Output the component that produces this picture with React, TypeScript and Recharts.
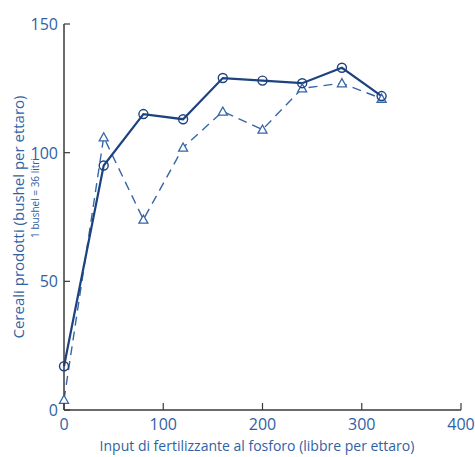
import { LineChart, Line, XAxis, YAxis } from "recharts";

// fertilizer input (libbre per ettaro)
const fosforo = [0, 40, 80, 120, 160, 200, 240, 280, 320];
// two series
const serieCerchi = [17, 95, 115, 113, 129, 128, 127, 133, 122];
const serieTriangoli = [4, 106, 74, 102, 116, 109, 125, 127, 121];

const xTicks = [0, 100, 200, 300, 400];
const yTicks = [0, 50, 100, 150];

const data = fosforo.map((x, i) => ({
    x,
    cerchi: serieCerchi[i],
    triangoli: serieTriangoli[i],
}));

const NAVY = "#1d4280";
const DASH = "#3766a6";
const TEXT = "#2f62a3";
const AXIS = "#3a3a3a";
const FONT = "'Open Sans', 'Noto Sans', sans-serif";

const Triangle = (props: any) => {
    const { cx, cy } = props;
    if (cx == null || cy == null) return null;
    const s = 4.5;
    return (
        <path
            d={`M${cx},${cy - s} L${cx + s},${cy + s * 0.8} L${cx - s},${cy + s * 0.8} Z`}
            fill="#fff"
            stroke={DASH}
            strokeWidth={1.3}
        />
    );
};

// ticks point inward, so draw line + label by hand
const XTick = (props: any) => {
    const { x, y, payload } = props;
    return (
        <g>
            <line x1={x} y1={y} x2={x} y2={y - 7} stroke={AXIS} strokeWidth={1.2} />
            <text x={x} y={y + 20} textAnchor="middle" fill={TEXT} fontSize={16} fontFamily={FONT}>
                {payload.value}
            </text>
        </g>
    );
};

const YTick = (props: any) => {
    const { x, y, payload } = props;
    return (
        <g>
            <line x1={x} y1={y} x2={x + 6} y2={y} stroke={AXIS} strokeWidth={1.2} />
            <text x={x - 6} y={y + 6} textAnchor="end" fill={TEXT} fontSize={16} fontFamily={FONT}>
                {payload.value}
            </text>
        </g>
    );
};

const AxisTitles = () => (
    <g>
        <text
            x={0}
            y={0}
            transform="translate(24, 217) rotate(-90)"
            textAnchor="middle"
            fill={TEXT}
            fontSize={15}
            fontFamily={FONT}
        >
            Cereali prodotti (bushel per ettaro)
        </text>
        <text
            x={0}
            y={0}
            transform="translate(39, 198) rotate(-90)"
            textAnchor="middle"
            fill={TEXT}
            fontSize={10}
            fontFamily={FONT}
        >
            1 bushel = 36 litri
        </text>
        <text x={257} y={451} textAnchor="middle" fill={TEXT} fontSize={14} fontFamily={FONT}>
            Input di fertilizzante al fosforo (libbre per ettaro)
        </text>
    </g>
);

export default function App() {
    return (
        <div style={{ position: "absolute", left: 0, top: 0, width: 475, height: 457, background: "#fff" }}>
            <LineChart
                width={475}
                height={457}
                data={data}
                margin={{ top: 24, right: 14, bottom: 46, left: 63 }}
            >
                <XAxis
                    dataKey="x"
                    type="number"
                    domain={[0, 400]}
                    ticks={xTicks}
                    height={1}
                    tickSize={0}
                    tickMargin={0}
                    axisLine={{ stroke: AXIS, strokeWidth: 1.5 }}
                    tickLine={false}
                    tick={<XTick />}
                />
                <YAxis
                    type="number"
                    domain={[0, 150]}
                    ticks={yTicks}
                    width={1}
                    tickSize={0}
                    tickMargin={0}
                    axisLine={{ stroke: AXIS, strokeWidth: 1.5 }}
                    tickLine={false}
                    tick={<YTick />}
                />
                <Line
                    dataKey="triangoli"
                    stroke={DASH}
                    strokeWidth={1.4}
                    strokeDasharray="9 6"
                    dot={<Triangle />}
                    activeDot={false}
                    isAnimationActive={false}
                />
                <Line
                    dataKey="cerchi"
                    stroke={NAVY}
                    strokeWidth={2.2}
                    dot={{ r: 4.5, fill: "none", stroke: NAVY, strokeWidth: 1.4 }}
                    activeDot={false}
                    isAnimationActive={false}
                />
                <AxisTitles />
            </LineChart>
        </div>
    );
}
